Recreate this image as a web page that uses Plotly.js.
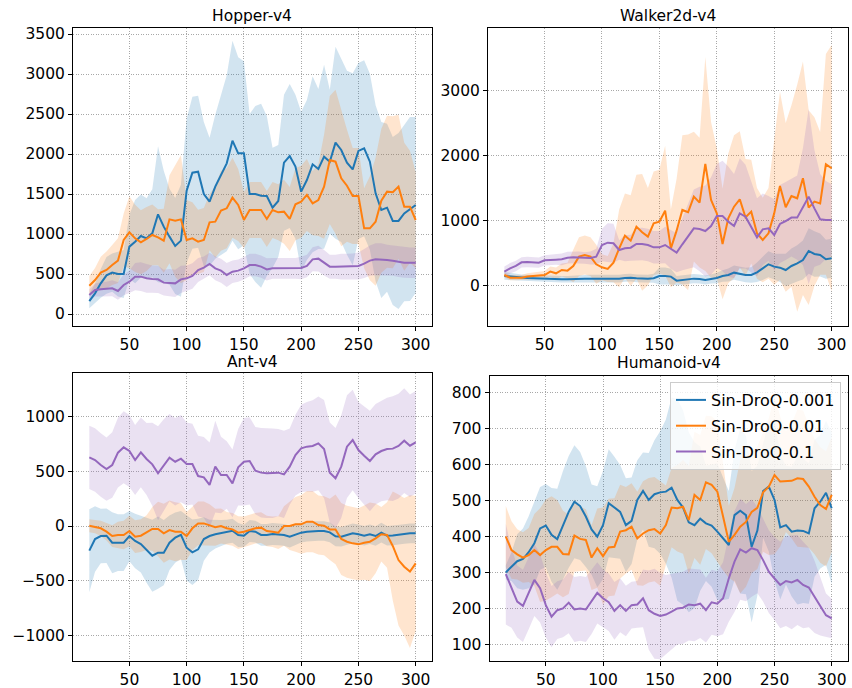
<!DOCTYPE html>
<html>
<head>
<meta charset="utf-8">
<script src="https://cdn.plot.ly/plotly-3.0.1.min.js"></script>
<style>
  html, body { margin: 0; padding: 0; background: #ffffff; }
  #chart { width: 852px; height: 688px; }
</style>
</head>
<body>
<div id="chart"></div>
<script>
// ---- data (training steps, x1000) ----
const steps = [15,20,25,30,35,40,45,50,55,60,65,70,75,80,85,90,95,100,105,110,115,120,125,130,135,140,145,150,155,160,165,170,175,180,185,190,195,200,205,210,215,220,225,230,235,240,245,250,255,260,265,270,275,280,285,290,295,300];

const seriesNames = ["Sin-DroQ-0.001", "Sin-DroQ-0.01", "Sin-DroQ-0.1"];
const envTitles = ["Hopper-v4", "Walker2d-v4", "Ant-v4", "Humanoid-v4"];

// Hopper-v4
const hopperMean001 = [162,258,383,483,517,500,500,842,904,975,946,1008,1246,1092,967,850,917,1542,1767,1779,1500,1404,1592,1738,1883,2167,2008,2008,1500,1500,1479,1475,1329,1413,1892,1975,1842,1529,1675,1871,1813,1967,1904,2142,2050,1892,1808,2038,2071,1904,1508,1300,1329,1163,1163,1258,1313,1363];
const hopperStd001  = [90,120,180,230,240,280,300,400,520,520,500,550,850,700,600,600,700,900,950,950,900,800,900,1000,1100,1250,1200,1150,1000,1100,1150,1000,750,700,850,900,900,1000,1000,1100,1000,1150,900,1200,1150,1150,1200,1100,1100,1100,1100,1100,1050,1050,1100,1100,1150,1100];
const hopperMean01  = [354,425,517,550,612,667,925,1021,946,896,938,988,958,917,1183,1167,1183,925,946,904,925,1146,1154,1292,1321,1454,1363,1175,1300,1300,1300,1188,1300,1271,1279,1188,1371,1404,1488,1383,1425,1592,1925,1904,1696,1604,1475,1475,1071,1071,1154,1417,1529,1521,1592,1342,1342,1175];
const hopperStd01   = [120,150,200,230,250,280,330,450,420,400,400,380,350,400,550,700,800,500,450,400,400,350,450,500,500,500,450,350,350,350,350,350,350,350,400,400,450,450,450,400,450,650,800,900,850,700,600,600,500,650,800,900,950,950,900,800,700,600];
const hopperMean1   = [238,300,308,312,321,288,363,404,467,467,446,437,433,392,392,383,433,446,475,550,579,625,571,542,488,529,542,571,612,612,592,558,571,571,579,571,571,575,600,683,692,640,592,592,592,592,595,600,630,667,683,683,675,667,654,642,640,640];
const hopperStd1    = [70,80,90,90,100,110,130,140,170,180,180,170,170,160,170,170,170,160,160,150,140,140,150,150,150,140,140,140,140,140,140,140,130,130,130,130,130,140,140,150,160,160,150,150,160,160,160,170,180,190,200,200,190,190,190,190,190,190];

// Walker2d-v4
const walkerMean001 = [144,134,123,118,113,108,103,103,103,98,92,92,98,98,103,103,103,103,103,98,103,113,118,108,103,103,108,144,144,134,72,82,92,103,98,82,98,113,144,159,195,175,159,159,200,262,324,288,272,236,298,339,390,529,483,467,401,416];
const walkerStd001  = [60,55,50,50,50,50,50,50,50,50,50,50,50,55,60,60,60,60,60,60,60,60,60,60,60,60,70,130,130,120,70,70,70,70,70,70,70,80,90,100,110,110,110,120,150,180,200,200,220,250,270,280,300,350,350,330,300,300];
const walkerMean01  = [159,118,118,118,134,144,154,159,211,185,236,226,298,442,467,442,324,277,252,349,570,765,688,904,817,750,955,981,1150,570,842,1161,1125,1366,1274,1870,1315,1109,637,1032,1212,1325,1048,1135,801,699,801,1109,1531,1202,1376,1341,1649,1197,1289,1263,1864,1803];
const walkerStd01   = [40,40,40,40,50,50,60,60,80,90,100,120,250,300,300,300,300,200,200,300,600,650,700,800,900,750,800,800,1000,600,800,1150,1200,1000,1000,1650,1200,1000,850,1000,1100,1050,900,800,700,650,700,1100,1450,1300,1400,1750,1800,1500,1300,1100,1700,1900];
const walkerMean1   = [211,262,298,354,360,360,349,385,395,395,401,426,431,431,421,421,442,621,657,647,544,570,580,637,637,621,585,585,621,555,503,632,760,878,868,837,914,1068,1068,981,914,1109,1058,904,740,863,878,776,945,991,1043,1043,1212,1366,1186,1017,1007,1007];
const walkerStd1    = [80,80,80,80,80,80,80,80,80,80,90,90,90,90,90,100,120,250,300,300,150,200,200,250,250,250,250,250,280,300,300,400,500,600,650,700,750,800,850,850,800,850,800,700,600,550,500,550,600,600,600,650,900,1350,900,700,600,550];

// Ant-v4
const antMean001 = [-226,-119,-92,-89,-153,-153,-153,-92,-137,-165,-220,-272,-244,-244,-153,-107,-82,-199,-241,-214,-119,-92,-76,-64,-52,-43,-82,-89,-46,-52,-82,-82,-73,-76,-82,-98,-76,-61,-52,-46,-46,-46,-58,-95,-98,-82,-67,-76,-89,-76,-92,-61,-89,-86,-76,-73,-67,-67];
const antStd001  = [380,300,250,250,280,260,260,230,250,260,300,330,330,300,250,230,220,300,300,280,200,150,130,120,110,110,110,100,100,100,100,100,100,100,100,100,100,90,90,90,90,90,90,90,90,90,90,90,90,90,90,90,90,90,90,90,90,90];
const antMean01  = [3,-6,-21,-52,-92,-82,-82,-46,-98,-89,-61,-27,-27,-67,-37,-52,-52,-92,-21,24,24,9,-12,0,-21,-31,-61,-52,-37,-21,-15,-46,-52,-61,0,0,15,15,40,40,9,3,-31,-31,-119,-144,-159,-168,-153,-144,-113,-76,-82,-183,-312,-373,-418,-342];
const antStd01   = [60,60,70,80,100,120,130,140,150,150,160,200,250,270,270,270,260,220,200,200,200,190,170,160,150,150,150,140,140,140,140,140,140,150,180,220,250,270,280,280,270,270,280,320,330,330,330,330,340,360,320,250,300,500,600,630,700,620];
const antMean1   = [629,605,559,522,559,672,721,687,605,675,614,565,483,559,626,589,617,568,568,458,446,376,544,467,467,391,538,589,596,507,489,483,483,489,473,544,650,712,727,733,757,705,489,437,544,727,788,696,644,596,657,687,705,709,733,782,736,767];
const antStd1    = [290,290,290,290,300,320,330,330,320,320,330,380,430,420,400,400,400,380,370,370,370,390,420,350,310,310,350,400,400,400,410,410,410,400,400,350,370,400,410,420,430,450,460,460,470,470,460,440,450,460,460,460,470,480,480,480,470,470];

// Humanoid-v4
const humMean001 = [300,316,331,337,356,381,422,430,404,392,431,468,496,484,455,419,399,431,492,481,468,431,443,501,526,501,517,522,524,535,501,480,439,431,449,436,430,413,393,376,459,471,459,371,416,526,538,501,425,431,413,416,415,408,478,496,521,478];
const humStd001  = [20,40,75,85,100,115,115,115,130,140,150,155,157,150,140,125,140,150,150,140,130,130,120,110,107,130,150,170,200,250,280,270,250,230,200,160,170,190,170,150,180,230,220,210,180,130,180,225,200,165,180,205,200,195,190,185,200,210];
const humMean01  = [399,362,350,341,348,362,348,362,371,371,351,350,402,393,390,341,367,345,369,371,413,417,427,394,408,417,420,408,431,480,478,482,445,515,501,550,543,524,455,385,404,427,440,468,479,522,538,570,552,552,554,561,559,538,510,487,476,515];
const humStd01   = [85,80,70,70,75,100,130,140,140,130,120,110,100,90,85,90,110,135,135,135,130,120,120,130,145,145,145,145,110,110,120,130,150,175,180,185,190,195,150,100,130,185,180,170,170,165,190,220,180,140,160,190,190,170,160,160,160,160];
const humMean1   = [295,256,219,207,242,279,256,209,177,195,200,216,197,200,197,219,243,228,217,193,209,193,209,211,228,195,185,179,183,191,200,202,211,209,213,195,217,213,228,283,330,364,355,367,362,334,302,283,265,276,272,279,265,258,232,205,181,172];
const humStd1    = [140,110,100,100,100,100,95,90,85,80,80,85,90,90,90,90,85,80,80,80,75,70,65,65,80,110,125,120,110,105,100,100,100,100,95,90,90,90,100,120,140,140,135,135,120,115,115,115,120,125,130,125,120,110,100,80,60,55];

// y tick labels per panel
const hopperTicks = [0,500,1000,1500,2000,2500,3000,3500];
const walkerTicks = [0,1000,2000,3000];
const antTicks = [-1000,-500,0,500,1000];
const humTicks = [100,200,300,400,500,600,700,800];
const stepTicks = [50,100,150,200,250,300];

// ---- styling ----
const lineColors = ["#1f77b4", "#ff7f0e", "#9467bd"];
const fillColors = ["rgba(31,119,180,0.2)", "rgba(255,127,14,0.2)", "rgba(148,103,189,0.2)"];
const FONT = "DejaVu Sans, Liberation Sans, sans-serif";
const FS = 15.5;

const panels = [
  {ax: "", means: [hopperMean001, hopperMean01, hopperMean1], stds: [hopperStd001, hopperStd01, hopperStd1]},
  {ax: "2", means: [walkerMean001, walkerMean01, walkerMean1], stds: [walkerStd001, walkerStd01, walkerStd1]},
  {ax: "3", means: [antMean001, antMean01, antMean1], stds: [antStd001, antStd01, antStd1]},
  {ax: "4", means: [humMean001, humMean01, humMean1], stds: [humStd001, humStd01, humStd1]}
];

const bandTraces = [];
const lineTraces = [];
panels.forEach((p, pi) => {
  const xa = "x" + p.ax, ya = "y" + p.ax;
  p.means.forEach((m, si) => {
    const s = p.stds[si];
    const lower = m.map((v, i) => v - s[i]);
    const upper = m.map((v, i) => v + s[i]);
    bandTraces.push({x: steps, y: lower, xaxis: xa, yaxis: ya, type: "scatter", mode: "lines",
      line: {width: 0, color: fillColors[si]}, showlegend: false, hoverinfo: "skip"});
    bandTraces.push({x: steps, y: upper, xaxis: xa, yaxis: ya, type: "scatter", mode: "lines",
      line: {width: 0, color: fillColors[si]}, fill: "tonexty", fillcolor: fillColors[si],
      showlegend: false, hoverinfo: "skip"});
  });
  p.means.forEach((m, si) => {
    lineTraces.push({x: steps, y: m, xaxis: xa, yaxis: ya, type: "scatter", mode: "lines",
      name: seriesNames[si], legendgroup: "g" + si, legendrank: si + 1,
      line: {color: lineColors[si], width: 2},
      showlegend: pi === 3});
  });
});

function axisBase() {
  return {showline: true, mirror: true, linecolor: "#000", linewidth: 1,
    ticks: "outside", ticklen: 4, tickwidth: 1, tickcolor: "#000",
    showgrid: true, gridcolor: "#a8a8a8", griddash: "1px,1.5px", gridwidth: 1,
    zeroline: false, tickfont: {family: FONT, size: FS, color: "#000"}};
}
function xAxis(domain, anchor) {
  return Object.assign(axisBase(), {domain: domain, anchor: anchor, range: [0.75, 314.25], tickvals: stepTicks});
}
function yAxis(domain, anchor, range, ticks) {
  return Object.assign(axisBase(), {domain: domain, anchor: anchor, range: range, tickvals: ticks});
}

const W = 852, H = 688;
const px = (a, b) => [a / W, b / W];
const py = (top, bottom) => [1 - bottom / H, 1 - top / H];

const layout = {
  width: W, height: H,
  margin: {l: 0, r: 0, t: 0, b: 0},
  paper_bgcolor: "#fff", plot_bgcolor: "#fff",
  font: {family: FONT, size: FS, color: "#000"},
  xaxis:  xAxis(px(73, 432), "y"),
  yaxis:  yAxis(py(28, 326), "x", [-150, 3575], hopperTicks),
  xaxis2: xAxis(px(488, 848), "y2"),
  yaxis2: yAxis(py(28, 326), "x2", [-627, 3965], walkerTicks),
  xaxis3: xAxis(px(73, 432), "y3"),
  yaxis3: yAxis(py(373, 661), "x3", [-1237, 1402], antTicks),
  xaxis4: xAxis(px(489.5, 848), "y4"),
  yaxis4: yAxis(py(376, 661), "x4", [54, 845], humTicks),
  showlegend: true,
  legend: {x: 841 / W, xanchor: "right", y: 1 - 382 / H, yanchor: "top",
    traceorder: "grouped", tracegroupgap: 2,
    bgcolor: "rgba(255,255,255,0.8)", bordercolor: "#cccccc", borderwidth: 1,
    font: {family: FONT, size: 16, color: "#000"}},
  annotations: [
    {text: envTitles[0], x: 252.5 / W, y: 1 - 16 / H},
    {text: envTitles[1], x: 668 / W, y: 1 - 16 / H},
    {text: envTitles[2], x: 252.5 / W, y: 1 - 361.5 / H},
    {text: envTitles[3], x: 668.75 / W, y: 1 - 363 / H}
  ].map(a => Object.assign(a, {xref: "paper", yref: "paper", xanchor: "center", yanchor: "middle",
    showarrow: false, font: {family: FONT, size: FS, color: "#000"}}))
};

Plotly.newPlot("chart", bandTraces.concat(lineTraces), layout, {displayModeBar: false, staticPlot: true});
</script>
</body>
</html>
